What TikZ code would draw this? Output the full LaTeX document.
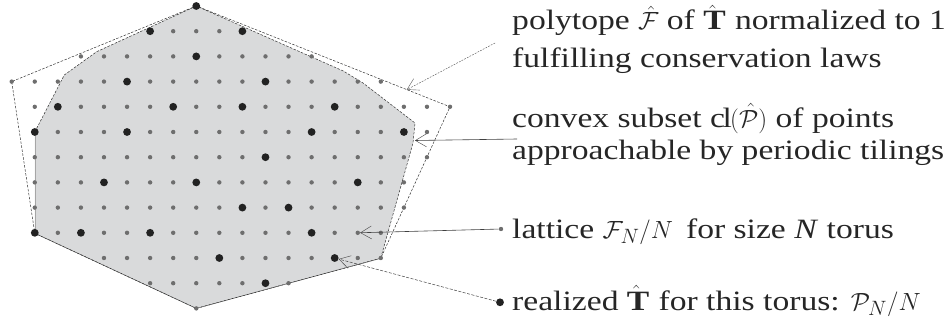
\documentclass[tikz,border=0pt]{standalone}
\usepackage{fontspec}
\setmainfont[FakeStretch=1.2]{Liberation Serif}
\usetikzlibrary{arrows.meta}
\definecolor{fillgray}{HTML}{D9DADB}
\definecolor{dotgray}{HTML}{6E6E6E}
\definecolor{dotdark}{HTML}{222222}
\begin{document}
\begin{tikzpicture}[x=1pt,y=-1pt,
  sdot/.style={circle,inner sep=0pt,minimum size=4.4pt,fill=dotgray},
  bdot/.style={circle,inner sep=0pt,minimum size=7.8pt,fill=dotdark},
  polyline/.style={line width=0.5pt,black!80,dash pattern=on 2.5pt off 1.5pt},
  barb/.style={-{Straight Barb[length=11pt,width=13pt,line width=0.4pt]}},
  lab1/.style={barb,line width=0.45pt,black!65,dash pattern=on 1.8pt off 1.2pt},
  lab2/.style={barb,line width=0.6pt,black!75},
  lab4/.style={barb,line width=0.5pt,black!75,dash pattern=on 3pt off 1.5pt},
  lbl/.style={anchor=base west,inner sep=0pt,font=\fontsize{28}{33}\selectfont,text=black!85}]
\useasboundingbox (0,0) rectangle (952,321);
% convex subset (gray)
\fill[fillgray] (196.3,6) -- (343.3,71) -- (363,83) -- (415,123) -- (413,143) -- (380.7,258.3)
  -- (196.3,308.4) -- (34.8,233.3) -- (34.8,132) -- (64.3,75) -- (96.7,51.7) -- cycle;
\draw[black!35,line width=0.5pt] (34.8,233.3) -- (34.8,132);
\draw[polyline] (34.8,132) -- (64.3,75) -- (96.7,51.7) -- (196.3,6) -- (343.3,71) -- (363,83)
  -- (415,123) -- (413,143) -- (380.7,258.3) -- (196.3,308.4) -- (34.8,233.3);
% polytope
\draw[polyline] (196.3,6) -- (11.7,81.6) -- (34.8,233.3) -- (196.3,308.4) -- (380.7,258.3)
  -- (450,106.8) -- cycle;
% lattice dots
\foreach \j/\a/\b in {0/8/8,1/6/10,2/3/13,3/0/16,4/1/19,5/1/18,6/1/18,7/1/17,8/1/17,9/1/16,10/4/16,11/6/12,12/8/8}{
  \foreach \i in {\a,...,\b}{
    \node[sdot] (d-\i-\j) at ({11.7+23.07*\i},{6+25.2*\j}) {};
  }
}
% realized points
\foreach \i/\j in {8/0,6/1,10/1,8/2,5/3,11/3,2/4,7/4,10/4,14/4,1/5,5/5,13/5,17/5,11/6,4/7,8/7,15/7,10/8,12/8,1/9,3/9,6/9,13/9,9/10,14/10,11/11}{
  \node[bdot] (b-\i-\j) at ({11.7+23.07*\i},{6+25.2*\j}) {};
}
% labels
\node[lbl] (L1a) at (512,30) {polytope $\hat{\mathcal{F}}$ of $\hat{\mathbf{T}}$\, normalized to 1};
\node[lbl] (L1b) at (512,67) {fulfilling conservation laws};
\node[lbl] (L2a) at (512,127) {convex subset $\mathrm{cl}(\hat{\mathcal{P}})$ of points};
\node[lbl] (L2b) at (512,159) {approachable by periodic tilings};
\node[sdot] (ldot) at (501,229) {};
\node[lbl] (L3) at (512,238) {lattice $\mathcal{F}_N/N$\, for size \textit{N} torus};
\node[bdot] (rdot) at (500,302.3) {};
\node[lbl] (L4) at (512,310) {realized $\hat{\mathbf{T}}$\, for this torus: $\mathcal{P}_N/N$};
% connectors
\coordinate (s1) at (495,43);
\coordinate (t1) at (406.7,89.7);
\coordinate (s2) at (517,139);
\coordinate (t2) at (415,140.5);
\draw[lab1] (s1) -- (t1);
\draw[lab2] (s2) -- (t2);
\draw[lab2] (ldot) -- (d-15-9);
\draw[lab4] (rdot) -- (b-14-10);
\end{tikzpicture}
\end{document}
